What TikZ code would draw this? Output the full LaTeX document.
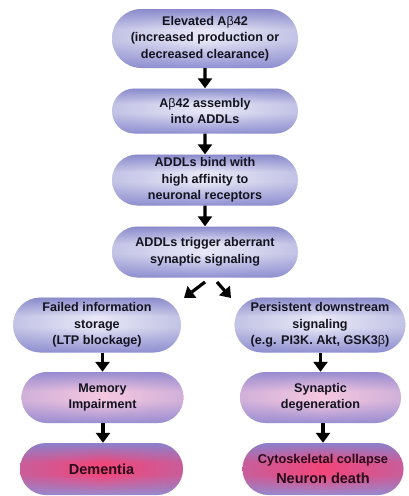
\documentclass[tikz,border=0pt]{standalone}
\usepackage{fontspec}
\setmainfont{Liberation Sans}
\usetikzlibrary{shapes.misc,arrows.meta,fadings}
\definecolor{lavtop}{HTML}{8A8ACC}
\definecolor{lavmid}{HTML}{E8E8F7}
\definecolor{lavbot}{HTML}{9090D2}
\definecolor{pinktop}{HTML}{988CD0}
\definecolor{pinkmid}{HTML}{F6C8E0}
\definecolor{pinkbot}{HTML}{9A8ED2}
\definecolor{redtop}{HTML}{8A82CC}
\definecolor{redmid}{HTML}{F2467A}
\definecolor{redbot}{HTML}{988CD0}
\definecolor{txt}{HTML}{141420}
\definecolor{txtred}{HTML}{2A0818}
\pgfdeclareverticalshading{lavsh}{100bp}{color(0bp)=(lavbot); color(25bp)=(lavbot); color(48bp)=(lavmid); color(58bp)=(lavmid); color(75bp)=(lavtop); color(100bp)=(lavtop)}
\pgfdeclareverticalshading{pinksh}{100bp}{color(0bp)=(pinkbot); color(25bp)=(pinkbot); color(47bp)=(pinkmid); color(56bp)=(pinkmid); color(75bp)=(pinktop); color(100bp)=(pinktop)}
\pgfdeclareverticalshading{redsh}{100bp}{color(0bp)=(redbot); color(25bp)=(redbot); color(45bp)=(redmid); color(56bp)=(redmid); color(75bp)=(redtop); color(100bp)=(redtop)}
\tikzfading[name=edgefade, left color=transparent!60, right color=transparent!60, middle color=transparent!100]
\newcommand{\bt}{{\mdseries β}}
\tikzset{
  pill/.style={rounded rectangle, inner sep=0pt, align=center, text=txt,
    font=\bfseries\fontsize{12.6}{16.5}\selectfont},
  lav/.style={pill, shading=lavsh, postaction={fill=lavtop, path fading=edgefade}},
  pnk/.style={pill, shading=pinksh, postaction={fill=pinktop, path fading=edgefade}},
  rd/.style={pill, shading=redsh, text=txtred, postaction={fill=redtop, path fading=edgefade}},
  arr/.style={line width=3.2pt, -{Triangle[width=14pt,length=10pt]}, black}
}
\begin{document}
\begin{tikzpicture}[x=1pt,y=-1pt]
\useasboundingbox (0,0) rectangle (409,496);
\node[lav, minimum width=186pt, minimum height=59pt] (b1) at (205,38.5)
  {Elevated A\bt42\\(increased production or\\decreased clearance)};
\node[lav, minimum width=186pt, minimum height=45pt] (b2) at (205,111)
  {A\bt42 assembly\\into ADDLs};
\node[lav, minimum width=186pt, minimum height=51pt] (b3) at (205,180)
  {ADDLs bind with\\high affinity to\\neuronal receptors};
\node[lav, minimum width=186pt, minimum height=51pt] (b4) at (205,252)
  {ADDLs trigger aberrant\\synaptic signaling};
\node[lav, minimum width=168pt, minimum height=55pt] (b5l) at (97,325)
  {Failed information\\storage\\(LTP blockage)};
\node[lav, minimum width=171pt, minimum height=55pt] (b5r) at (320,325)
  {Persistent downstream\\signaling\\(e.g. PI3K. Akt, GSK3\bt)};
\node[pnk, minimum width=162pt, minimum height=51pt] (b6l) at (102.5,397.5)
  {Memory\\Impairment};
\node[pnk, minimum width=161pt, minimum height=51pt] (b6r) at (320.5,397.5)
  {Synaptic\\degeneration};
\node[rd, minimum width=163pt, minimum height=52pt, font=\bfseries\fontsize{14.5}{17}\selectfont] (b7l) at (101.5,469)
  {Dementia};
\node[rd, minimum width=161pt, minimum height=52pt] (b7r) at (323,469)
  {{\fontsize{12.8}{15}\selectfont Cytoskeletal collapse}\\[3pt]{\fontsize{14.5}{17}\selectfont Neuron death}};
\coordinate (dl0) at (205,282);
\coordinate (dr0) at (217,282);
\draw[arr] (b1) -- (b2);
\draw[arr] (b2) -- (b3);
\draw[arr] (b3) -- (b4);
\draw[arr] (dl0) -- (184,298);
\draw[arr] (dr0) -- (231,298);
\draw[arr] (b5l.south -| b6l.north) -- (b6l.north);
\draw[arr] (b6l.south -| 103,0) -- (b7l.north -| 103,0);
\draw[arr] (b5r.south -| b6r.north) -- (b6r.north);
\draw[arr] (b6r.south -| 323,0) -- (b7r.north);
\end{tikzpicture}
\end{document}
